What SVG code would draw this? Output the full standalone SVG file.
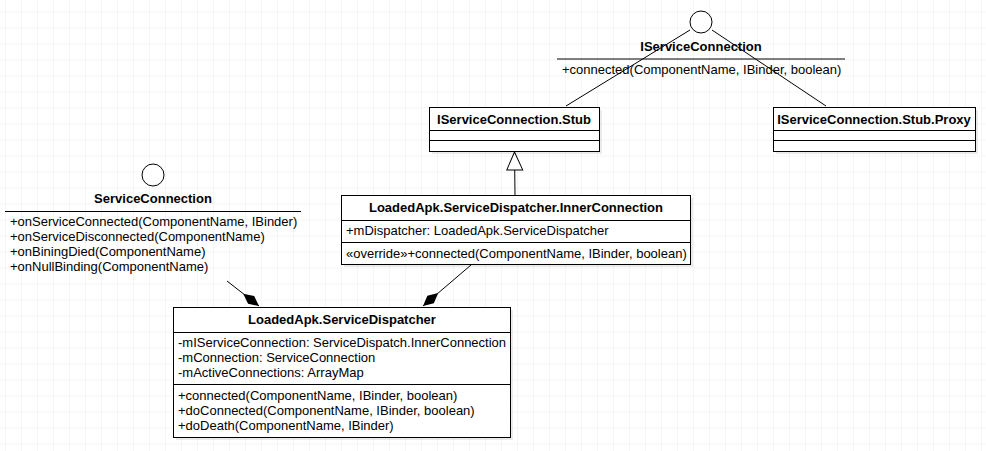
<svg xmlns="http://www.w3.org/2000/svg" width="986" height="451" viewBox="0 0 986 451">
<defs>
<pattern id="g" x="5" y="11.5" width="16" height="16" patternUnits="userSpaceOnUse"><path d="M0 0H16M0 0V16" stroke="#ebebeb" stroke-width="1" fill="none"/></pattern>
<marker id="dia" markerWidth="22" markerHeight="12" refX="21" refY="6" orient="auto" markerUnits="userSpaceOnUse"><path d="M1 6L11 1L21 6L11 11Z" fill="#000"/></marker>
<marker id="tri" markerWidth="20" markerHeight="20" refX="19" refY="9" orient="auto" markerUnits="userSpaceOnUse"><path d="M1 1L19 9L1 17Z" fill="#fff" stroke="#000"/></marker>
</defs>
<style>
text{font-family:"Liberation Sans",Arial,sans-serif;font-size:13px;fill:#000}
.b{font-weight:bold;text-anchor:middle}
.box{fill:#fff;stroke:#000;stroke-width:1}
.sh{fill:#000;opacity:0.08}
.l{stroke:#000;stroke-width:1;fill:none}
</style>
<rect width="986" height="451" fill="#fff"/>
<rect width="986" height="451" fill="url(#g)"/>
<g id="connectors">
<path class="l" d="M690 30L566 106"/>
<path class="l" d="M712 30L826 106"/>
<path class="l" d="M515 195L514.5 152" marker-end="url(#tri)"/>
<path class="l" d="M471 265L423 306" marker-end="url(#dia)"/>
<path class="l" d="M227 281L259 306" marker-end="url(#dia)"/>
</g>
<g id="IServiceConnection">
<circle cx="701" cy="22" r="11" class="box"/>
<text x="701" y="51" class="b">IServiceConnection</text>
<path class="l" d="M557 59H845"/>
<text x="562" y="74">+connected(ComponentName, IBinder, boolean)</text>
</g>
<g id="Stub">
<rect x="432" y="110" width="170" height="44" class="sh"/>
<rect x="429.5" y="107.5" width="170" height="44" class="box"/>
<path class="l" d="M429.5 130.5H599.5M429.5 140.5H599.5"/>
<text x="514" y="124" class="b">IServiceConnection.Stub</text>
</g>
<g id="Proxy">
<rect x="776" y="110" width="202" height="44" class="sh"/>
<rect x="773.5" y="107.5" width="202" height="44" class="box"/>
<path class="l" d="M773.5 130.5H975.5M773.5 140.5H975.5"/>
<text x="874" y="124" class="b">IServiceConnection.Stub.Proxy</text>
</g>
<g id="ServiceConnection">
<circle cx="153" cy="175" r="11" class="box"/>
<text x="153" y="203" class="b">ServiceConnection</text>
<path class="l" d="M5 211.5H301"/>
<text x="10" y="226">+onServiceConnected(ComponentName, IBinder)</text>
<text x="10" y="241">+onServiceDisconnected(ComponentName)</text>
<text x="10" y="256">+onBiningDied(ComponentName)</text>
<text x="10" y="271">+onNullBinding(ComponentName)</text>
</g>
<g id="InnerConnection">
<rect x="344" y="198" width="349" height="69" class="sh"/>
<rect x="341.5" y="195.5" width="349" height="69" class="box"/>
<path class="l" d="M341.5 220.5H690.5M341.5 242.5H690.5"/>
<text x="516" y="212" class="b">LoadedApk.ServiceDispatcher.InnerConnection</text>
<text x="346" y="235">+mDispatcher: LoadedApk.ServiceDispatcher</text>
<text x="346" y="258">«override»+connected(ComponentName, IBinder, boolean)</text>
</g>
<g id="ServiceDispatcher">
<rect x="176" y="310" width="337" height="130" class="sh"/>
<rect x="173.5" y="307.5" width="337" height="130" class="box"/>
<path class="l" d="M173.5 332.5H510.5M173.5 384.5H510.5"/>
<text x="342" y="324" class="b">LoadedApk.ServiceDispatcher</text>
<text x="178" y="347">-mIServiceConnection: ServiceDispatch.InnerConnection</text>
<text x="178" y="362">-mConnection: ServiceConnection</text>
<text x="178" y="377">-mActiveConnections: ArrayMap</text>
<text x="178" y="400">+connected(ComponentName, IBinder, boolean)</text>
<text x="178" y="415">+doConnected(ComponentName, IBinder, boolean)</text>
<text x="178" y="430">+doDeath(ComponentName, IBinder)</text>
</g>
</svg>
